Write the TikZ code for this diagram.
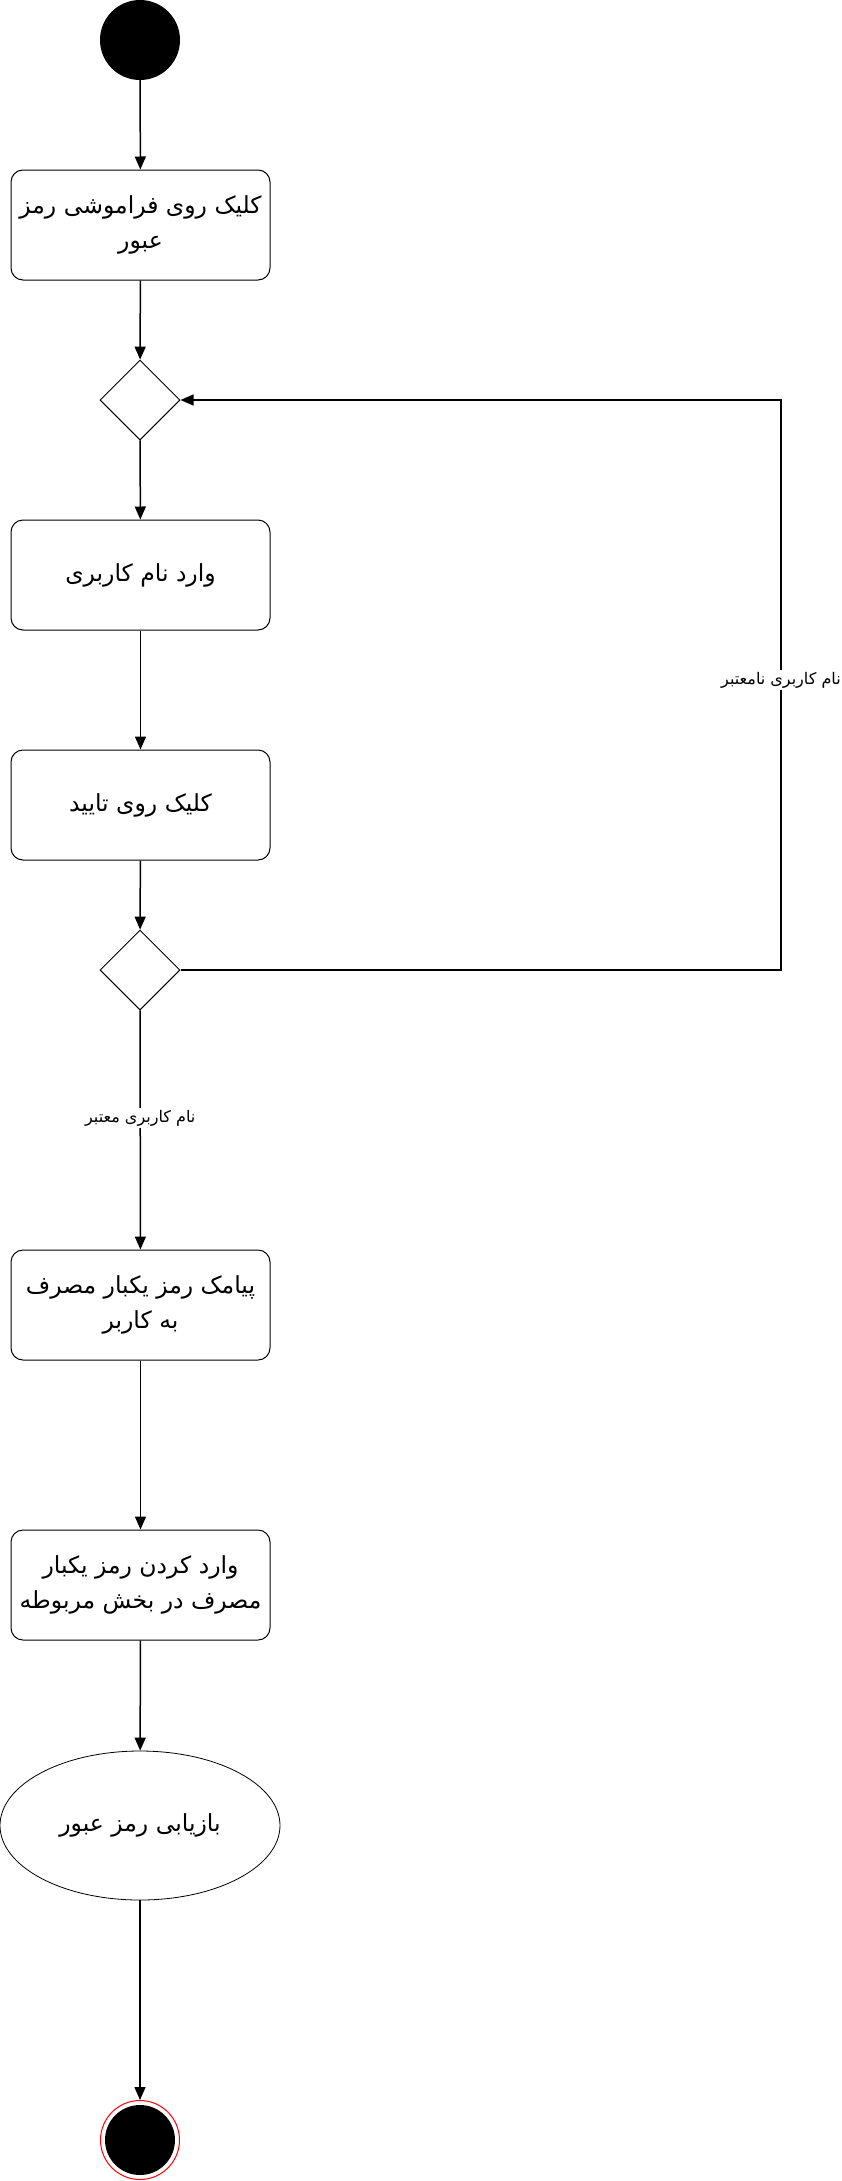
\documentclass[tikz,border=0pt]{standalone}
\usepackage{fontspec}
\newfontfamily\arabicfont[Script=Arabic]{DejaVu Sans}
\TeXXeTstate=1
\usetikzlibrary{shapes.geometric,arrows.meta}

\newcommand{\rtl}[1]{\beginR #1\endR}

\tikzset{
  activity/.style={draw, rounded corners=12pt, minimum width=259pt, minimum height=110pt,
    line width=1pt, align=center, inner sep=0pt,
    font=\arabicfont\fontsize{23.5}{35}\selectfont},
  decision/.style={draw, diamond, minimum width=80pt, minimum height=80pt,
    inner sep=0pt, line width=1pt},
  flow/.style={line width=1.5pt, -{Triangle[length=13pt,width=11pt]}},
  edgelabel/.style={fill=white, inner sep=2pt, font=\arabicfont\fontsize{16}{19}\selectfont},
}

\begin{document}
\begin{tikzpicture}[x=1pt,y=-1pt]
\useasboundingbox (0,0) rectangle (842,2181);

% initial state
\node[circle, fill=black, minimum size=80pt, inner sep=0pt] (start) at (140,40) {};

% activities and decisions
\node[activity] (a1) at (140.5,225) {\rtl{کلیک روی فراموشی رمز}\\\rtl{عبور}};
\node[decision] (d1) at (140,400) {};
\node[activity] (a2) at (140.5,575) {\rtl{وارد نام کاربری}};
\node[activity] (a3) at (140.5,805) {\rtl{کلیک روی تایید}};
\node[decision] (d2) at (140,970) {};
\node[activity] (a4) at (140.5,1305) {\rtl{پیامک رمز یکبار مصرف}\\\rtl{به کاربر}};
\node[activity] (a5) at (140.5,1585) {\rtl{وارد کردن رمز یکبار}\\\rtl{مصرف در بخش مربوطه}};
\node[ellipse, draw, line width=0.8pt, minimum width=280pt, minimum height=149pt, inner sep=0pt,
      font=\arabicfont\fontsize{23.5}{35}\selectfont] (goal) at (140,1825.5) {\rtl{بازیابی رمز عبور}};

% final state
\node[circle, draw=red, line width=1pt, minimum size=79pt, inner sep=0pt,
      path picture={\fill[black] (path picture bounding box.center) circle (35pt);}] (end) at (140,2140) {};

% loop-back corner
\coordinate (loopc) at (781,680);

% connectors
\draw[flow] (start) -- (a1);
\draw[flow] (a1) -- (d1);
\draw[flow] (d1) -- (a2);
\draw[flow] (a2) -- (a3);
\draw[flow] (a3) -- (d2);
\draw[flow] (d2) -- node[edgelabel, pos=0.45] {\rtl{نام کاربری معتبر}} (a4);
\draw[flow] (a4) -- (a5);
\draw[flow] (a5) -- (goal);
\draw[flow] (goal) -- (end);
\draw[flow] (d2.east) -- (d2.east -| loopc) -- (d1.east -| loopc) -- (d1.east);
\node[edgelabel] (badlabel) at (loopc) {\rtl{نام کاربری نامعتبر}};
\end{tikzpicture}
\end{document}
